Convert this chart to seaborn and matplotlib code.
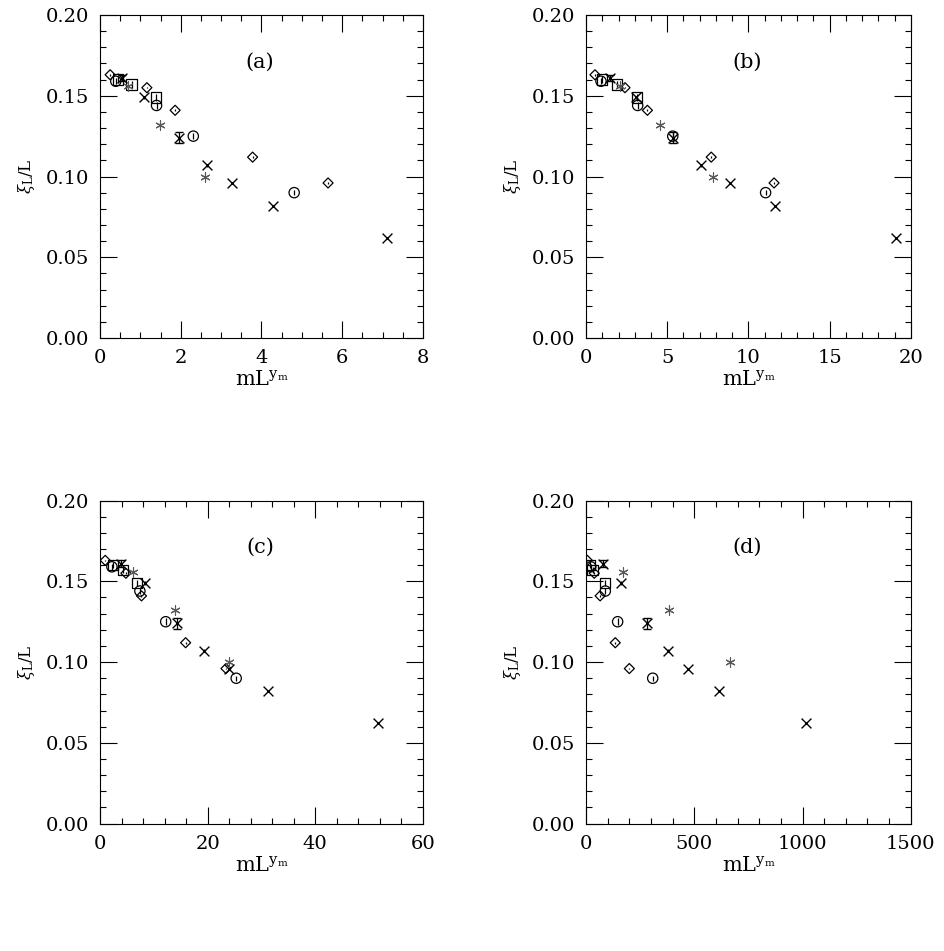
import numpy as np
import pandas as pd
import matplotlib
matplotlib.use('Agg')
import matplotlib.pyplot as plt
import seaborn as sns
from matplotlib.ticker import MultipleLocator, FormatStrFormatter

# Valores (y comum aos quatro paineis, x muda com o expoente)

diam_y = [0.163, 0.155, 0.141, 0.112, 0.096]
circ_y = [0.159, 0.144, 0.125, 0.090]
sq_y = [0.160, 0.157, 0.149]
cross_y = [0.161, 0.149, 0.124, 0.107, 0.096, 0.082, 0.062]
star_y = [0.156, 0.132, 0.100]

diam_err = [0.0005, 0.0005, 0.0005, 0.0005, 0.0005]
circ_err = [0.002, 0.002, 0.002, 0.0015]
sq_err = [0.002, 0.002, 0.002]
cross_err = [0.002, 0.001, 0.0035, 0.001, 0.0005, 0.0005, 0.0005]
star_err = [0.001, 0.001, 0.001]

# painel (a)
diam_xa = [0.25, 1.16, 1.86, 3.78, 5.65]
circ_xa = [0.39, 1.40, 2.31, 4.81]
sq_xa = [0.45, 0.78, 1.38]
cross_xa = [0.54, 1.10, 1.96, 2.64, 3.28, 4.29, 7.10]
star_xa = [0.69, 1.49, 2.60]

# painel (b)
diam_xb = [0.55, 2.40, 3.78, 7.71, 11.58]
circ_xb = [0.92, 3.18, 5.34, 11.06]
sq_xb = [1.00, 1.90, 3.12]
cross_xb = [1.48, 3.05, 5.34, 7.10, 8.84, 11.62, 19.1]
star_xb = [2.10, 4.56, 7.85]

# painel (c)
diam_xc = [0.96, 4.8, 7.7, 15.9, 23.4]
circ_xc = [2.2, 7.4, 12.2, 25.3]
sq_xc = [2.4, 4.2, 6.9]
cross_xc = [3.9, 8.3, 14.3, 19.3, 23.9, 31.3, 51.6]
star_xc = [6.2, 13.9, 23.9]

# painel (d)
diam_xd = [6, 38, 65, 135, 200]
circ_xd = [22, 89, 146, 308]
sq_xd = [18, 30, 89]
cross_xd = [77, 161, 280, 377, 472, 614, 1015]
star_xd = [172, 385, 664]

paineis = ['(a)', '(b)', '(c)', '(d)']
xlims = [(0, 8), (0, 20), (0, 60), (0, 1500)]
xmajor = [2, 5, 20, 500]
xminor = [0.5, 1, 4, 100]

xs = {
    'diam': [diam_xa, diam_xb, diam_xc, diam_xd],
    'circ': [circ_xa, circ_xb, circ_xc, circ_xd],
    'sq': [sq_xa, sq_xb, sq_xc, sq_xd],
    'cross': [cross_xa, cross_xb, cross_xc, cross_xd],
    'star': [star_xa, star_xb, star_xc, star_xd],
}
ys = {'diam': diam_y, 'circ': circ_y, 'sq': sq_y, 'cross': cross_y, 'star': star_y}
errs = {'diam': diam_err, 'circ': circ_err, 'sq': sq_err, 'cross': cross_err, 'star': star_err}

# estilo dos marcadores
estilos = {
    'diam': dict(marker='D', s=26, facecolor='none', edgecolor='k', linewidth=0.9),
    'circ': dict(marker='o', s=55, facecolor='none', edgecolor='k', linewidth=0.9),
    'sq': dict(marker='s', s=55, facecolor='none', edgecolor='k', linewidth=0.9),
    'cross': dict(marker='x', s=50, color='k', linewidth=1.0),
    'star': dict(marker=(6, 2, 0), s=45, color='0.35', linewidth=0.8),
}

sns.set_style('ticks')
plt.rcParams['font.family'] = ['DejaVu Serif']
plt.rcParams['mathtext.fontset'] = 'dejavuserif'
plt.rcParams['text.color'] = 'k'
plt.rcParams['axes.labelcolor'] = 'k'
plt.rcParams['xtick.color'] = 'k'
plt.rcParams['ytick.color'] = 'k'
plt.rcParams['axes.edgecolor'] = 'k'

fig = plt.figure(figsize=(9.44, 9.51), dpi=100)
posicoes = [
    [0.106, 0.6446, 0.342, 0.3396],
    [0.6208, 0.6446, 0.344, 0.3396],
    [0.106, 0.134, 0.342, 0.3396],
    [0.6208, 0.134, 0.344, 0.3396],
]

for i, pos in enumerate(posicoes):
    ax = fig.add_axes(pos)
    for nome in ['diam', 'circ', 'sq', 'star', 'cross']:
        df = pd.DataFrame({'x': xs[nome][i], 'y': ys[nome], 'e': errs[nome]})
        # barras grandes com traco no fim, pequenas sem
        grande = df[df['e'] >= 0.002] if nome == 'cross' else df.iloc[0:0]
        pequena = df.drop(grande.index)
        if len(grande):
            ax.errorbar(grande['x'], grande['y'], yerr=grande['e'], fmt='none', ecolor='k',
                        elinewidth=0.9, capsize=3, zorder=2)
        ax.errorbar(pequena['x'], pequena['y'], yerr=pequena['e'], fmt='none', ecolor='k',
                    elinewidth=0.9, capsize=0, zorder=2)
        sns.scatterplot(data=df, x='x', y='y', ax=ax, legend=False, zorder=3, **estilos[nome])

    ax.set_xlim(*xlims[i])
    ax.set_ylim(0, 0.2)
    ax.xaxis.set_major_locator(MultipleLocator(xmajor[i]))
    ax.xaxis.set_minor_locator(MultipleLocator(xminor[i]))
    ax.yaxis.set_major_locator(MultipleLocator(0.05))
    ax.yaxis.set_minor_locator(MultipleLocator(0.01))
    ax.yaxis.set_major_formatter(FormatStrFormatter('%.2f'))
    ax.tick_params(which='both', direction='in', top=True, right=True, width=0.8,
                   labelsize=14, colors='k')
    ax.tick_params(which='major', length=12.5, pad=8)
    ax.tick_params(which='minor', length=4.5)
    for sp in ax.spines.values():
        sp.set_linewidth(0.8)
        sp.set_color('k')
    ax.set_xlabel(r'mL$^{\mathregular{y_m}}$', fontsize=15, labelpad=2)
    ax.set_ylabel(r'$\xi_{\mathregular{L}}$/L', fontsize=12, labelpad=6)
    ax.text(0.495, 0.855, paineis[i], transform=ax.transAxes, ha='center', va='center',
            fontsize=15)

plt.savefig('out.png', dpi=100)
